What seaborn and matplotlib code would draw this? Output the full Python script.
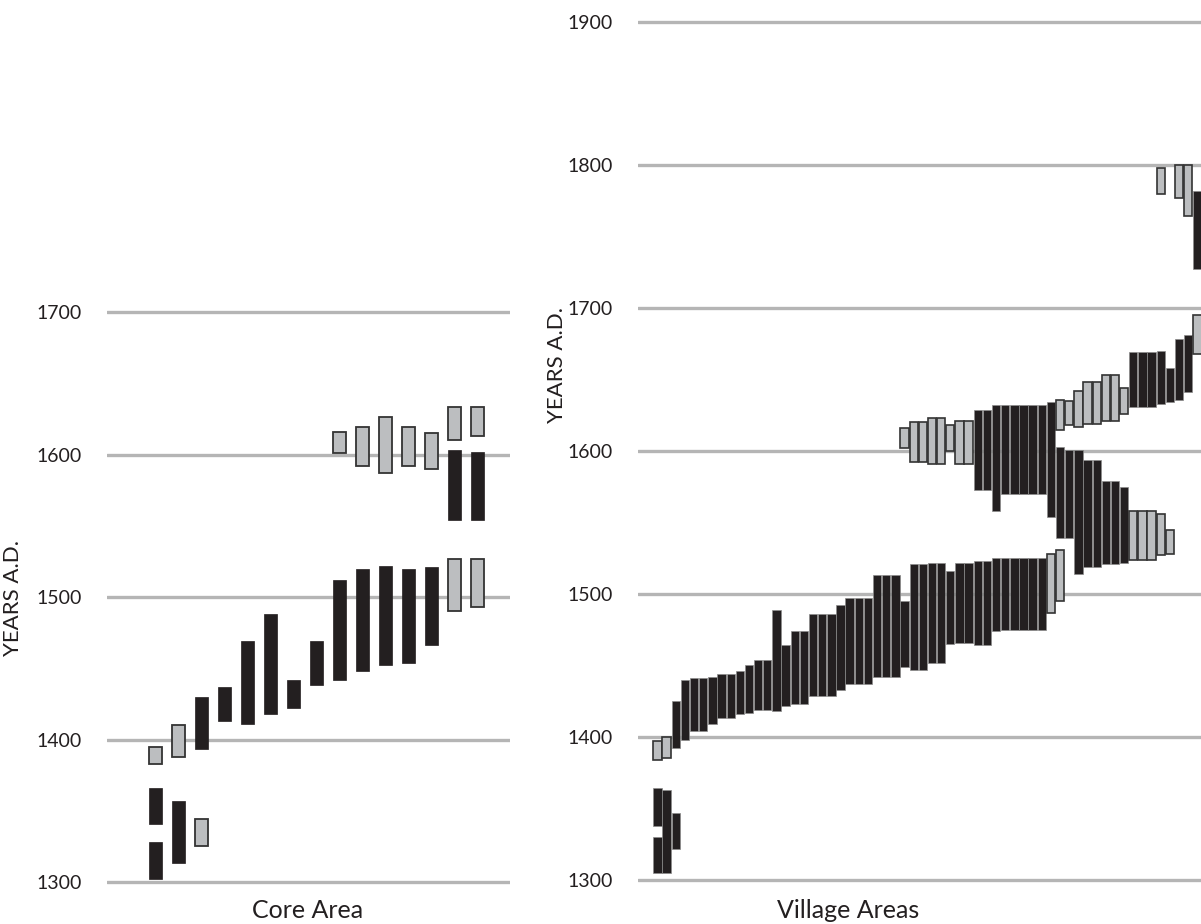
import matplotlib
matplotlib.use("Agg")
import matplotlib.pyplot as plt
import numpy as np
import seaborn as sns

# y ticks of the two panels
core_years = [1300, 1400, 1500, 1600, 1700]
village_years = [1300, 1400, 1500, 1600, 1700, 1800, 1900]

# Core Area - black ranges (column, start year, end year)
core_black_col = [1, 1, 2, 3, 4, 5, 6, 7, 8, 9, 10, 11, 12, 13, 14, 15]
core_black_start = [1302, 1341, 1313, 1393, 1413, 1411, 1418, 1422, 1438, 1442, 1448, 1452, 1454, 1466, 1554, 1554]
core_black_end = [1328, 1366, 1357, 1430, 1437, 1469, 1488, 1442, 1469, 1512, 1520, 1522, 1520, 1521, 1603, 1602]

# Core Area - gray ranges
core_gray_col = [1, 2, 3, 9, 10, 11, 12, 13, 14, 14, 15, 15]
core_gray_start = [1383, 1388, 1325, 1601, 1592, 1587, 1592, 1590, 1490, 1610, 1493, 1613]
core_gray_end = [1395, 1410, 1344, 1616, 1619, 1626, 1619, 1615, 1527, 1633, 1527, 1633]

# Village Areas - black ranges
village_black_col = [1, 1, 2, 3, 3, 4, 5, 6, 7, 8, 9, 10, 11, 12, 13, 14, 15, 16, 17, 18,
                     19, 20, 21, 22, 23, 24, 25, 26, 27, 28, 29, 30, 31, 32, 33, 34, 35,
                     36, 36, 37, 37, 38, 38, 39, 39, 40, 40, 41, 41, 42, 42, 43, 43,
                     44, 45, 46, 47, 48, 49, 50, 51, 52, 53, 54, 55, 56, 57, 58, 59, 60]
village_black_start = [1305, 1338, 1305, 1322, 1392, 1398, 1404, 1404, 1409, 1413, 1413, 1416,
                       1417, 1419, 1419, 1418, 1422, 1423, 1423, 1429, 1429, 1429, 1433, 1437,
                       1437, 1437, 1442, 1442, 1442, 1449, 1447, 1447, 1452, 1452, 1465, 1466,
                       1466, 1464, 1573, 1464, 1573, 1474, 1558, 1475, 1570, 1475, 1570, 1475,
                       1570, 1475, 1570, 1475, 1570, 1554, 1539, 1539, 1514, 1519, 1519, 1521,
                       1521, 1522, 1631, 1631, 1631, 1633, 1634, 1636, 1641, 1727]
village_black_end = [1330, 1364, 1363, 1347, 1425, 1440, 1441, 1441, 1442, 1444, 1444, 1446,
                     1450, 1454, 1454, 1489, 1464, 1474, 1474, 1486, 1486, 1486, 1492, 1497,
                     1497, 1497, 1513, 1513, 1513, 1495, 1521, 1521, 1522, 1522, 1516, 1522,
                     1522, 1523, 1629, 1523, 1629, 1525, 1632, 1525, 1632, 1525, 1632, 1525,
                     1632, 1525, 1632, 1525, 1632, 1634, 1603, 1601, 1601, 1594, 1594, 1579,
                     1579, 1575, 1669, 1669, 1669, 1670, 1658, 1678, 1681, 1782]

# Village Areas - gray ranges
village_gray_col = [1, 2, 28, 29, 30, 31, 32, 33, 34, 35, 44, 45, 45, 46, 47, 48, 49, 50,
                    51, 52, 53, 54, 55, 56, 56, 57, 58, 59, 60]
village_gray_start = [1384, 1385, 1602, 1592, 1592, 1591, 1591, 1600, 1591, 1591, 1487, 1495,
                      1615, 1618, 1617, 1619, 1619, 1621, 1621, 1626, 1524, 1524, 1524, 1527,
                      1780, 1528, 1777, 1764, 1668]
village_gray_end = [1397, 1400, 1616, 1620, 1620, 1623, 1623, 1618, 1621, 1621, 1528, 1531,
                    1636, 1635, 1642, 1648, 1648, 1653, 1653, 1644, 1558, 1558, 1558, 1556,
                    1798, 1545, 1800, 1800, 1695]

BLACK = "#231f20"
GRAY = "#bcbec0"
GRID = "#b5b5b5"

sns.set_theme(style="white")
plt.rcParams["font.family"] = ["Lato", "DejaVu Sans"]

W, H = 1201, 924
fig = plt.figure(figsize=(W / 100, H / 100), dpi=100)


def make_axes(left, right, top_px, bottom_px, ylo, yhi, pad=3):
    # top_px/bottom_px are the pixel rows of the yhi/ylo grid lines
    scale = (bottom_px - top_px) / (yhi - ylo)
    t = top_px - pad * scale
    b = bottom_px + pad * scale
    ax = fig.add_axes([left / W, 1 - b / H, (right - left) / W, (b - t) / H])
    ax.set_ylim(ylo - pad, yhi + pad)
    return ax


def draw(ax, col, start, end, width, fill, edge, lw):
    start = np.array(start)
    end = np.array(end)
    ax.bar(col, end - start, bottom=start, width=width, color=fill,
           edgecolor=edge, linewidth=lw, zorder=3)


def style(ax, ticks):
    ax.set_yticks(ticks)
    ax.set_xticks([])
    ax.grid(axis="y", color=GRID, linewidth=2.4)
    ax.grid(axis="x", visible=False)
    ax.set_axisbelow(True)
    for s in ax.spines.values():
        s.set_visible(False)
    ax.tick_params(axis="y", length=0, pad=18, labelsize=14, labelcolor=BLACK)


# left panel
ax1 = make_axes(107, 510, 312, 882, 1300, 1700)
draw(ax1, core_black_col, core_black_start, core_black_end, 0.57, BLACK, BLACK, 0.5)
draw(ax1, core_gray_col, core_gray_start, core_gray_end, 0.57, GRAY, "#333333", 1.3)
ax1.set_xlim(-1.1, 16.4)
style(ax1, core_years)

# right panel
ax2 = make_axes(638, 1201, 22, 880, 1300, 1900)
draw(ax2, village_black_col, village_black_start, village_black_end, 0.91, BLACK, "#8c8c8c", 0.5)
draw(ax2, village_gray_col, village_gray_start, village_gray_end, 0.91, GRAY, "#333333", 1.2)
ax2.set_xlim(-1.13, 60.4)
style(ax2, village_years)

# axis labels
for ax, xl, xpos, ypos in [(ax1, "Core Area", (308, 910), (13, 598)),
                           (ax2, "Village Areas", (848, 910), (557, 365))]:
    ax.set_xlabel(xl, fontsize=18, color=BLACK)
    ax.xaxis.set_label_coords(xpos[0] / W, 1 - xpos[1] / H, transform=fig.transFigure)
    ax.xaxis.label.set_va("center")
    ax.set_ylabel("YEARS A.D.", fontsize=16, color=BLACK)
    ax.yaxis.set_label_coords(ypos[0] / W, 1 - ypos[1] / H, transform=fig.transFigure)
    ax.yaxis.label.set_va("center")

fig.savefig("out.png", dpi=100)
